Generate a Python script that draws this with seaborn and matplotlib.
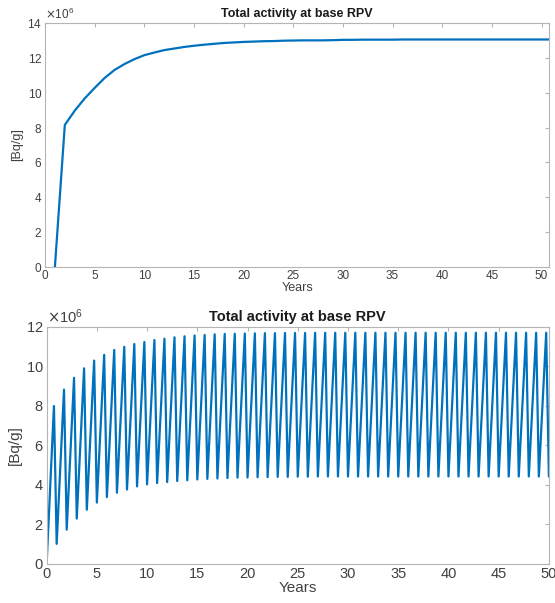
import numpy as np
import pandas as pd
import seaborn as sns
import matplotlib.pyplot as plt
from matplotlib.ticker import ScalarFormatter

# top panel: yearly total activity [x1e6 Bq/g]
years_top = list(range(1, 52))
act_top = [0.0, 8.15, 8.97, 9.67, 10.27, 10.84, 11.30, 11.64, 11.92, 12.15,
           12.30, 12.44, 12.53, 12.62, 12.69, 12.75, 12.80, 12.85, 12.88, 12.91,
           12.93, 12.95, 12.96, 12.98, 12.99, 13.00, 13.00, 13.00, 13.01, 13.03,
           13.03, 13.04, 13.04, 13.04, 13.04, 13.05, 13.05, 13.05, 13.05, 13.05,
           13.05, 13.05, 13.05, 13.05, 13.05, 13.05, 13.05, 13.05, 13.05, 13.05,
           13.05]

# bottom panel: end-of-operation peaks and start-of-cycle minima [x1e6 Bq/g]
peaks = [7.99, 8.82, 9.42, 9.90, 10.29, 10.58, 10.83, 10.99, 11.13, 11.23,
         11.33, 11.40, 11.47, 11.52, 11.56, 11.59, 11.62, 11.64, 11.65, 11.66,
         11.67, 11.68, 11.68, 11.69, 11.69, 11.69, 11.70, 11.70, 11.70, 11.70,
         11.70, 11.70, 11.70, 11.70, 11.70, 11.70, 11.70, 11.70, 11.70, 11.70,
         11.70, 11.70, 11.70, 11.70, 11.70, 11.70, 11.70, 11.70, 11.70, 11.70]
mins = [1.01, 1.73, 2.29, 2.74, 3.10, 3.38, 3.60, 3.76, 3.92, 4.02,
        4.09, 4.14, 4.19, 4.23, 4.27, 4.30, 4.32, 4.34, 4.36, 4.37,
        4.38, 4.39, 4.40, 4.40, 4.41, 4.41, 4.42, 4.42, 4.42, 4.42,
        4.42, 4.42, 4.42, 4.42, 4.42, 4.42, 4.42, 4.42, 4.42, 4.42,
        4.42, 4.42, 4.42, 4.42, 4.42, 4.42, 4.42, 4.42, 4.42, 4.42]
peak_offset = 0.73  # fraction of year at which the peak occurs

t_bot = [0.0]
a_bot = [0.0]
for n, (p, m) in enumerate(zip(peaks, mins)):
    t_bot += [n + peak_offset, n + 1.0]
    a_bot += [p, m]

top = pd.DataFrame({"Years": years_top, "act": np.array(act_top) * 1e6})
bot = pd.DataFrame({"Years": t_bot, "act": np.array(a_bot) * 1e6})

sns.set_style("white")
plt.rcParams['font.family'] = ['Liberation Sans', 'DejaVu Sans']

blue = '#0072BD'
spine_c = '#b5b5b5'
text_c = '#404040'

fig = plt.figure(figsize=(5.55, 6.03), dpi=100)
ax1 = fig.add_axes([0.081, 0.557, 0.909, 0.405])
ax2 = fig.add_axes([0.084, 0.065, 0.905, 0.393])

sns.lineplot(data=top, x="Years", y="act", ax=ax1, color=blue, linewidth=1.6)
sns.lineplot(data=bot, x="Years", y="act", ax=ax2, color=blue, linewidth=1.6)


def style(ax, ymax, fs, lfs, tfs):
    ax.set_ylim(0, ymax * 1e6)
    ax.set_yticks(np.arange(0, ymax + 1, 2) * 1e6)
    ax.set_xticks(np.arange(0, 51, 5))
    fmt = ScalarFormatter(useMathText=True)
    fmt.set_powerlimits((6, 6))
    ax.yaxis.set_major_formatter(fmt)
    ax.yaxis.get_offset_text().set_fontsize(fs)
    ax.yaxis.get_offset_text().set_color(text_c)
    for s in ax.spines.values():
        s.set_visible(True)
        s.set_color(spine_c)
        s.set_linewidth(0.8)
    ax.tick_params(direction='in', top=True, right=True, length=3,
                   color=spine_c, labelsize=fs, labelcolor=text_c, pad=2)
    ax.set_xlabel("Years", fontsize=lfs, color=text_c, labelpad=0)
    ax.set_ylabel("[Bq/g]", fontsize=lfs, color=text_c, labelpad=3)
    ax.set_title("Total activity at base RPV", fontsize=tfs,
                 fontweight='bold', color='#1a1a1a', pad=4)


style(ax1, 14, 8.5, 9, 9)
ax1.set_xlim(0, 50.8)
style(ax2, 12, 10.5, 11, 10.5)
ax2.set_xlim(0, 50)

fig.savefig("out.png", dpi=100)
